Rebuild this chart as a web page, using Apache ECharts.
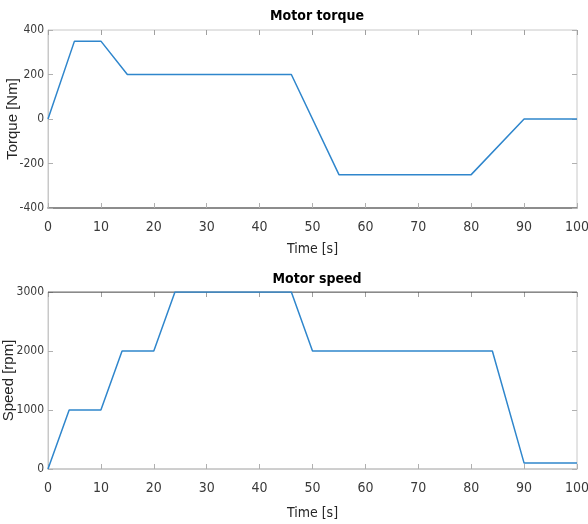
<!DOCTYPE html>
<html>
<head>
<meta charset="utf-8">
<script src="https://cdn.jsdelivr.net/npm/echarts@6/dist/echarts.min.js"></script>
<style>
  html, body { margin: 0; padding: 0; background: #fff; }
  #chart { width: 588px; height: 524px; }
</style>
</head>
<body>
<div id="chart"></div>
<script>
  // values
  const torqueTime = [0, 5, 10, 15, 46, 55, 80, 90, 100];
  const torqueVals = [0, 350, 350, 200, 200, -250, -250, 0, 0];
  const speedTime = [0, 4, 10, 14, 20, 24, 46, 50, 84, 90, 100];
  const speedVals = [0, 1000, 1000, 2000, 2000, 3000, 3000, 2000, 2000, 100, 100];
  const timeTicks = [0, 10, 20, 30, 40, 50, 60, 70, 80, 90, 100];
  const torqueTicks = [-400, -200, 0, 200, 400];
  const speedTicks = [0, 1000, 2000, 3000];

  const narrow = "'DejaVu Sans Condensed', 'Liberation Sans Narrow', Roboto, 'Liberation Sans', sans-serif";
  const regular = "'Liberation Sans', Arial, sans-serif";
  const lineBlue = '#2f86cc';

  const pair = (xs, ys) => xs.map((x, i) => [x, ys[i]]);

  function xAx(gridIndex, lineColor, gap) {
    return [{
      type: 'value', gridIndex: gridIndex,
      min: timeTicks[0], max: timeTicks[timeTicks.length - 1], interval: 10,
      name: 'Time [s]', nameLocation: 'middle', nameGap: gap, nameMoveOverlap: false,
      nameTextStyle: { fontFamily: narrow, fontSize: 14, color: '#262626' },
      axisLine: { onZero: false, lineStyle: { color: lineColor, width: 1.5 } },
      axisTick: { inside: true, length: 5, lineStyle: { color: '#b0b0b0' } },
      axisLabel: { fontFamily: narrow, fontSize: 14, color: '#3a3a3a', margin: 12 },
      splitLine: { show: false }
    }, {
      type: 'value', gridIndex: gridIndex, position: 'top',
      min: timeTicks[0], max: timeTicks[timeTicks.length - 1], interval: 10,
      axisLine: { show: false, onZero: false },
      axisTick: { inside: true, length: 5, lineStyle: { color: '#a0a0a0' } },
      axisLabel: { show: false },
      splitLine: { show: false }
    }];
  }

  function yAx(gridIndex, ticks, step, name, gap) {
    return [{
      type: 'value', gridIndex: gridIndex,
      min: ticks[0], max: ticks[ticks.length - 1], interval: step,
      name: name, nameLocation: 'middle', nameGap: gap, nameRotate: 90, nameMoveOverlap: false,
      nameTextStyle: { fontFamily: regular, fontSize: 15, color: '#262626' },
      axisLine: { show: true, onZero: false, lineStyle: { color: '#c8c8c8' } },
      axisTick: { inside: true, length: 5, lineStyle: { color: '#b0b0b0' } },
      axisLabel: { fontFamily: narrow, fontSize: 12, color: '#3a3a3a', margin: 4,
        formatter: v => String(v) },
      splitLine: { show: false }
    }, {
      type: 'value', gridIndex: gridIndex, position: 'right',
      min: ticks[0], max: ticks[ticks.length - 1], interval: step,
      axisLine: { show: false, onZero: false },
      axisTick: { inside: true, length: 5, lineStyle: { color: '#b0b0b0' } },
      axisLabel: { show: false },
      splitLine: { show: false }
    }];
  }

  const myChart = echarts.init(document.getElementById('chart'));
  const option = {
    animation: false,
    backgroundColor: '#ffffff',
    title: [
      { text: 'Motor torque', left: 312, top: 4, textAlign: 'center',
        textStyle: { fontFamily: narrow, fontWeight: 'bold', fontSize: 14, color: '#000' } },
      { text: 'Motor speed', left: 312, top: 267, textAlign: 'center',
        textStyle: { fontFamily: narrow, fontWeight: 'bold', fontSize: 14, color: '#000' } }
    ],
    grid: [
      { left: 48, top: 30, width: 529, height: 178, show: true, borderColor: '#c8c8c8', borderWidth: 1,
        containLabel: false, outerBoundsMode: 'none' },
      { left: 48, top: 292, width: 529, height: 177, show: true, borderColor: '#c8c8c8', borderWidth: 1,
        containLabel: false, outerBoundsMode: 'none' }
    ],
    xAxis: [].concat(xAx(0, '#707070', 34), xAx(1, '#c8c8c8', 37)),
    yAxis: [].concat(yAx(0, torqueTicks, 200, 'Torque [Nm]', 28), yAx(1, speedTicks, 1000, 'Speed [rpm]', 32)),
    series: [
      { type: 'line', xAxisIndex: 0, yAxisIndex: 0, data: pair(torqueTime, torqueVals),
        showSymbol: false, lineStyle: { color: lineBlue, width: 1.5 } },
      { type: 'line', xAxisIndex: 2, yAxisIndex: 2, data: pair(speedTime, speedVals),
        showSymbol: false, lineStyle: { color: lineBlue, width: 1.5 } },
      // dark box edge along the top of the speed plot
      { type: 'line', xAxisIndex: 2, yAxisIndex: 2, data: [[0, 3000], [100, 3000]],
        showSymbol: false, silent: true, z: 1, lineStyle: { color: '#333', width: 1.2 } }
    ]
  };
  myChart.setOption(option);
</script>
</body>
</html>
